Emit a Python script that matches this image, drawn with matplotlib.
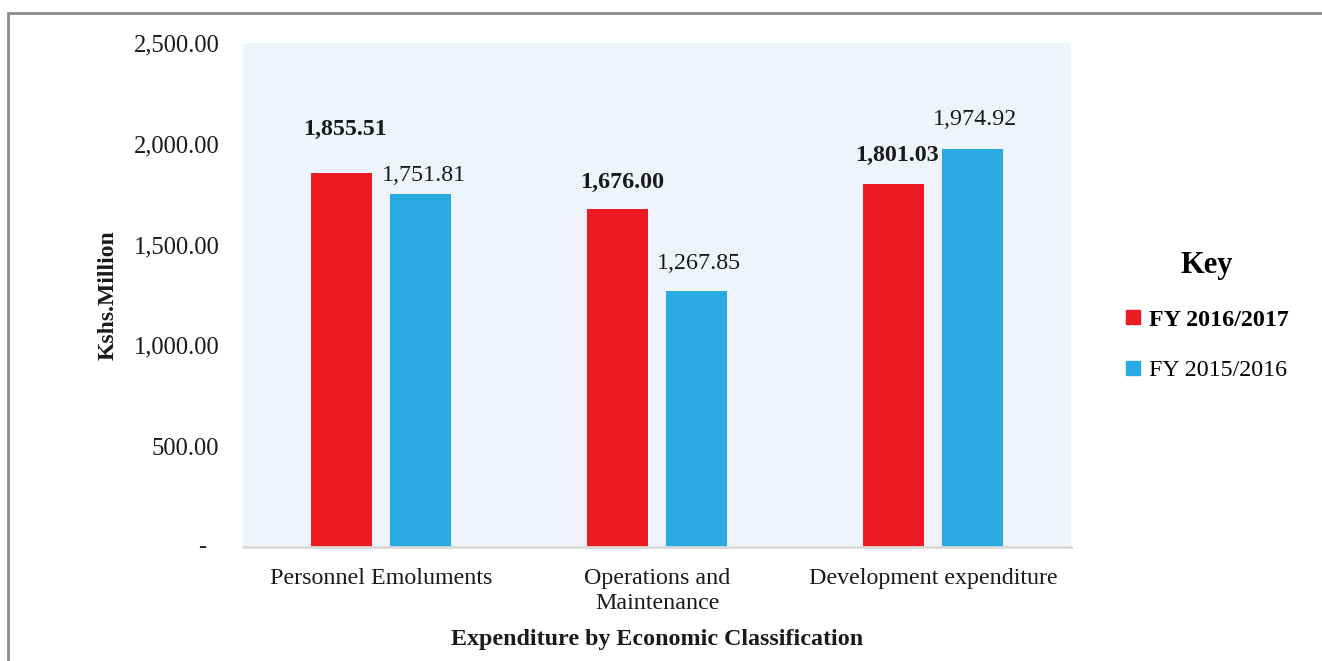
import matplotlib.pyplot as plt
from matplotlib.patches import Rectangle
from matplotlib.lines import Line2D
import numpy as np

categories = ["Personnel Emoluments", "Operations and\nMaintenance", "Development expenditure"]
fy_2016_17 = [1855.51, 1676.00, 1801.03]
fy_2015_16 = [1751.81, 1267.85, 1974.92]
series_names = ["FY 2016/2017", "FY 2015/2016"]
y_ticks = [0, 500, 1000, 1500, 2000, 2500]

RED = "#ED1C24"
BLUE = "#29ABE2"

plt.rcParams["font.family"] = ["Liberation Serif", "DejaVu Serif"]

fig = plt.figure(figsize=(13.22, 6.61), dpi=100)
W, H = 1322, 661
ax = fig.add_axes([243 / W, 1 - 547 / H, (1071 - 243) / W, (547 - 43) / H])
ax.set_facecolor("#EFF4FB")

x = np.arange(len(categories))
width = 0.22
off = 0.142
bars_a = ax.bar(x - off, fy_2016_17, width, color=RED, zorder=2)
bars_b = ax.bar(x + off, fy_2015_16, width, color=BLUE, zorder=2)

# hand-placed value labels, offsets in pixels (dx, dy above bar top)
offs_a = [(3, 43), (4, 27), (3, 28)]
offs_b = [(4, 18), (3, 28), (3, 29)]
for b, v, (dx, dy) in zip(bars_a, fy_2016_17, offs_a):
    ax.annotate(f"{v:,.2f}", (b.get_x() + b.get_width() / 2, v), xytext=(dx, dy),
                textcoords="offset pixels", ha="center", va="center",
                fontsize=17.3, fontweight="bold", color="#1a1a1a")
for b, v, (dx, dy) in zip(bars_b, fy_2015_16, offs_b):
    ax.annotate(f"{v:,.2f}", (b.get_x() + b.get_width() / 2, v), xytext=(dx, dy),
                textcoords="offset pixels", ha="center", va="center",
                fontsize=17.3, color="#1a1a1a")

ax.set_xlim(-0.5, 2.5)
ax.set_ylim(0, 2500)
ax.set_yticks(y_ticks)
ax.set_yticklabels(["" if t == 0 else f"{t:,.2f}" for t in y_ticks], fontsize=17.7, color="#1a1a1a")
ax.text(-0.045, 0, "-", transform=ax.get_yaxis_transform(), ha="right", va="center",
        fontsize=17.5, color="#1a1a1a")
ax.set_xticks(x)
ax.set_xticklabels(categories, fontsize=17.3, color="#1a1a1a", linespacing=1.25)
ax.tick_params(axis="y", length=0, pad=17)
ax.tick_params(axis="x", length=0, pad=15)

for s in ["top", "right", "left"]:
    ax.spines[s].set_visible(False)
ax.spines["bottom"].set_color("#D9D9D9")
ax.spines["bottom"].set_linewidth(2)

ax.set_xlabel("Expenditure by Economic Classification", fontsize=17.3, fontweight="bold", color="#1a1a1a")
ax.xaxis.set_label_coords(0.5, -0.163)
ax.set_ylabel("Kshs.Million", fontsize=17, fontweight="bold", color="#1a1a1a")
ax.yaxis.set_label_coords(-0.15, 0.5)

handles = [Line2D([], [], marker="s", linestyle="none", markersize=9.5, color=c) for c in (RED, BLUE)]
leg = fig.legend(handles, series_names, loc="center", bbox_to_anchor=(1207 / W, 1 - 316 / H),
                 frameon=False, fontsize=17.3, title="Key", handlelength=0.7, handletextpad=0.3,
                 labelspacing=1.2, alignment="center")
leg.get_title().set_fontsize(22)
leg.get_title().set_fontweight("bold")
leg.get_texts()[0].set_fontweight("bold")

# grey frame around the figure
fig.add_artist(Rectangle((8 / W, -0.1), 1.2, 1 - 13 / H + 0.1, transform=fig.transFigure,
                         fill=False, edgecolor="#8C8C8C", linewidth=2))

fig.savefig("out.png", dpi=100)
